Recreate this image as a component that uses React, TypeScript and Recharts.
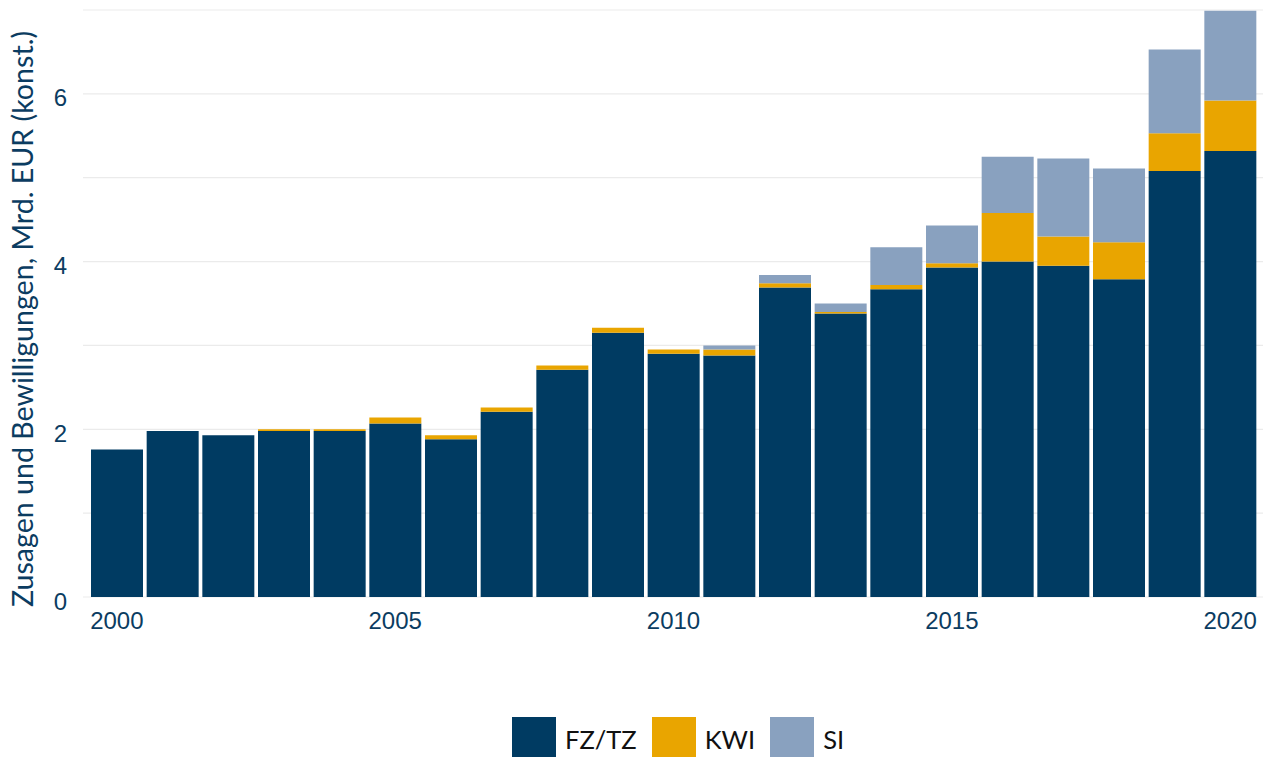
import { BarChart, Bar, XAxis, YAxis, CartesianGrid } from "recharts";

// Zusagen und Bewilligungen, Mrd. EUR (konst.)
const years = [
  "2000", "2001", "2002", "2003", "2004", "2005", "2006", "2007", "2008", "2009", "2010",
  "2011", "2012", "2013", "2014", "2015", "2016", "2017", "2018", "2019", "2020",
];
const fzTz = [1.76, 1.98, 1.93, 1.98, 1.98, 2.07, 1.88, 2.21, 2.71, 3.15, 2.9, 2.88, 3.69, 3.38, 3.67, 3.93, 4.0, 3.95, 3.79, 5.08, 5.32];
const kwi = [0, 0, 0, 0.02, 0.02, 0.07, 0.05, 0.05, 0.05, 0.06, 0.05, 0.07, 0.05, 0.02, 0.05, 0.05, 0.58, 0.35, 0.44, 0.45, 0.6];
const si = [0, 0, 0, 0, 0, 0, 0, 0, 0, 0, 0, 0.05, 0.1, 0.1, 0.45, 0.45, 0.67, 0.93, 0.88, 1.0, 1.07];

const yTicks = [0, 2, 4, 6];
const gridValues = [0, 1, 2, 3, 4, 5, 6, 7];

const series = [
  { key: "fz", name: "FZ/TZ", color: "#003b62" },
  { key: "kwi", name: "KWI", color: "#e9a500" },
  { key: "si", name: "SI", color: "#89a1bf" },
];

const data = years.map((year, i) => ({ year, fz: fzTz[i], kwi: kwi[i], si: si[i] }));

const textColor = "#0b3c61";
const tickFont = "'Liberation Sans', Arial, sans-serif";
const labelFont = "Lato, 'Open Sans', sans-serif";

const YTitle = () => (
  <text
    x={22}
    y={319}
    transform="rotate(-90, 22, 319)"
    textAnchor="middle"
    dominantBaseline="central"
    fill={textColor}
    fontFamily={labelFont}
    fontSize={28.6}
  >
    Zusagen und Bewilligungen, Mrd. EUR (konst.)
  </text>
);

export default function App() {
  return (
    <div
      style={{
        position: "absolute",
        left: 0,
        top: 0,
        width: 1268,
        height: 757,
        overflow: "hidden",
        background: "#fff",
      }}
    >
      <BarChart
        width={1268}
        height={757}
        data={data}
        margin={{ top: 10, right: 5, left: 0, bottom: 120 }}
        barCategoryGap={2}
      >
        <CartesianGrid
          vertical={false}
          horizontalValues={gridValues}
          stroke="#ebebeb"
          strokeWidth={1.2}
        />
        <XAxis
          dataKey="year"
          interval={4}
          tickLine={false}
          axisLine={false}
          tickSize={0}
          tickMargin={15}
          height={40}
          padding={{ left: 6, right: 5 }}
          tick={{ fill: textColor, fontSize: 24, fontFamily: tickFont }}
        />
        <YAxis
          domain={[0, 7]}
          ticks={yTicks}
          width={83}
          tickLine={false}
          axisLine={false}
          tickSize={0}
          tickMargin={16}
          tick={{ fill: textColor, fontSize: 24, fontFamily: tickFont, dy: 4 }}
          label={<YTitle />}
        />
        {series.map((s) => (
          <Bar key={s.key} dataKey={s.key} name={s.name} stackId="a" fill={s.color} isAnimationActive={false} />
        ))}
      </BarChart>
      <div
        style={{
          position: "absolute",
          left: 512,
          top: 717,
          display: "flex",
          alignItems: "flex-start",
          fontFamily: labelFont,
          fontSize: 25.5,
          color: "#111",
        }}
      >
        {series.map((s) => (
          <div key={s.key} style={{ display: "flex", alignItems: "center", marginRight: 15 }}>
            <div style={{ width: 44, height: 44, background: s.color, marginRight: 9 }} />
            <span style={{ lineHeight: "44px" }}>{s.name}</span>
          </div>
        ))}
      </div>
    </div>
  );
}
